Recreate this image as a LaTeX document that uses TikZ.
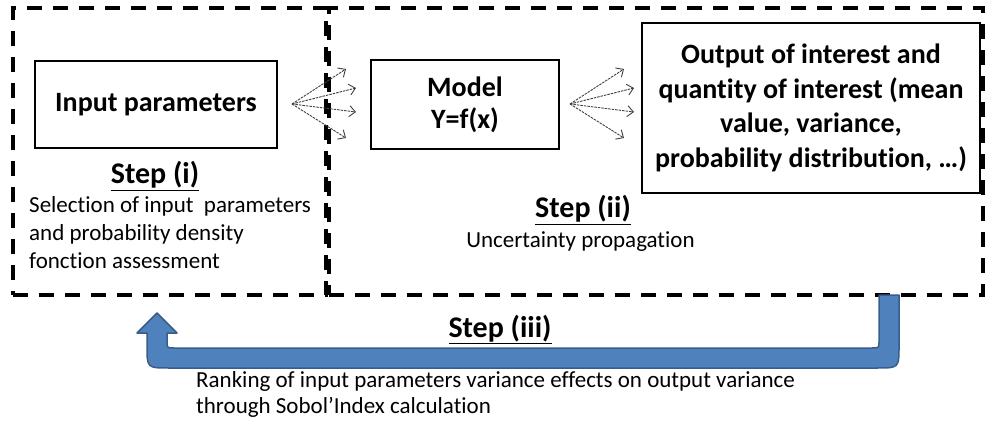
\documentclass[tikz,border=0pt]{standalone}
\usepackage{fontspec}
\setmainfont{Carlito}[Ligatures=NoCommon]
\usetikzlibrary{arrows.meta}
\definecolor{arrowblue}{HTML}{4F81BD}
\definecolor{arrowedge}{HTML}{385D8A}
\definecolor{fangray}{HTML}{404040}
\tikzset{
  dashbox/.style={draw, line width=3.5pt, dash pattern=on 15pt off 11pt, inner sep=0pt},
  solidbox/.style={draw, line width=2.4pt, font=\bfseries\fontsize{28}{34.5}\selectfont, align=center, inner sep=0pt},
  fan/.style={draw=fangray, line width=0.9pt, dash pattern=on 2.5pt off 1pt, -{Straight Barb[length=6pt,width=11pt,line width=0.9pt]}},
  steplabel/.style={font=\bfseries\fontsize{30}{36}\selectfont, inner sep=0pt, anchor=base},
  desc/.style={font=\fontsize{23}{28}\selectfont, inner sep=0pt, align=left},
  bluearrow/.style={fill=arrowblue, draw=arrowedge, line width=1.5pt, line join=round}
}
\begin{document}
\begin{tikzpicture}[x=1pt,y=-1pt]
\useasboundingbox (0,0) rectangle (988,422);
% dashed step frames
\node[dashbox, minimum width=313pt, minimum height=287pt] (frameone) at (169.5,151.5) {};
\node[dashbox, minimum width=654pt, minimum height=287pt] (frametwo) at (656,151.5) {};
% boxes
\node[solidbox, minimum width=242pt, minimum height=87pt] (inp) at (156,104.5) {Input parameters};
\node[solidbox, minimum width=188pt, minimum height=89pt, font=\bfseries\fontsize{28}{32}\selectfont] (model) at (465,104.5) {Model\\Y=f(x)};
\node[solidbox, minimum width=338pt, minimum height=170pt] (out) at (811,108) {Output of interest and\\quantity of interest (mean\\value, variance,\\probability distribution, \dots)};
% step labels
\node[steplabel] (stepone) at (155,184) {\underline{Step (i)}};
\node[desc, anchor=north west] (descone) at (29,196) {Selection of input\ \ parameters\\and probability density\\fonction assessment};
\node[steplabel] (steptwo) at (583,218) {\underline{Step (ii)}};
\node[desc, anchor=north] (desctwo) at (580.5,231) {Uncertainty propagation};
\node[steplabel] (stepthree) at (500,337) {\underline{Step (iii)}};
\node[desc, anchor=north west, font=\fontsize{23}{26}\selectfont] (descthree) at (196,371) {Ranking of input parameters variance effects on output variance\\through Sobol'Index calculation};
% fan arrows
\coordinate (fo1) at (292,104);
\coordinate (fa1) at (346,69);
\coordinate (fb1) at (356,88);
\coordinate (fc1) at (356,112);
\coordinate (fd1) at (346,138);
\coordinate (fo2) at (570,104);
\coordinate (fa2) at (624,69);
\coordinate (fb2) at (634,88);
\coordinate (fc2) at (634,112);
\coordinate (fd2) at (624,138);
\foreach \t in {fa1,fb1,fc1,fd1} \draw[fan] (fo1) -- (\t);
\foreach \t in {fa2,fb2,fc2,fd2} \draw[fan] (fo2) -- (\t);
% blue feedback arrow
\draw[bluearrow] (879,295) -- (899,295) -- (899,346) .. controls (899,368) .. (877,368)
  -- (169,368) .. controls (147,368) .. (147,346) -- (147,333) -- (137,333) -- (157,313)
  -- (177,333) -- (167,333) -- (167,341) .. controls (167,348) .. (174,348)
  -- (872,348) .. controls (879,348) .. (879,341) -- cycle;
\end{tikzpicture}
\end{document}
